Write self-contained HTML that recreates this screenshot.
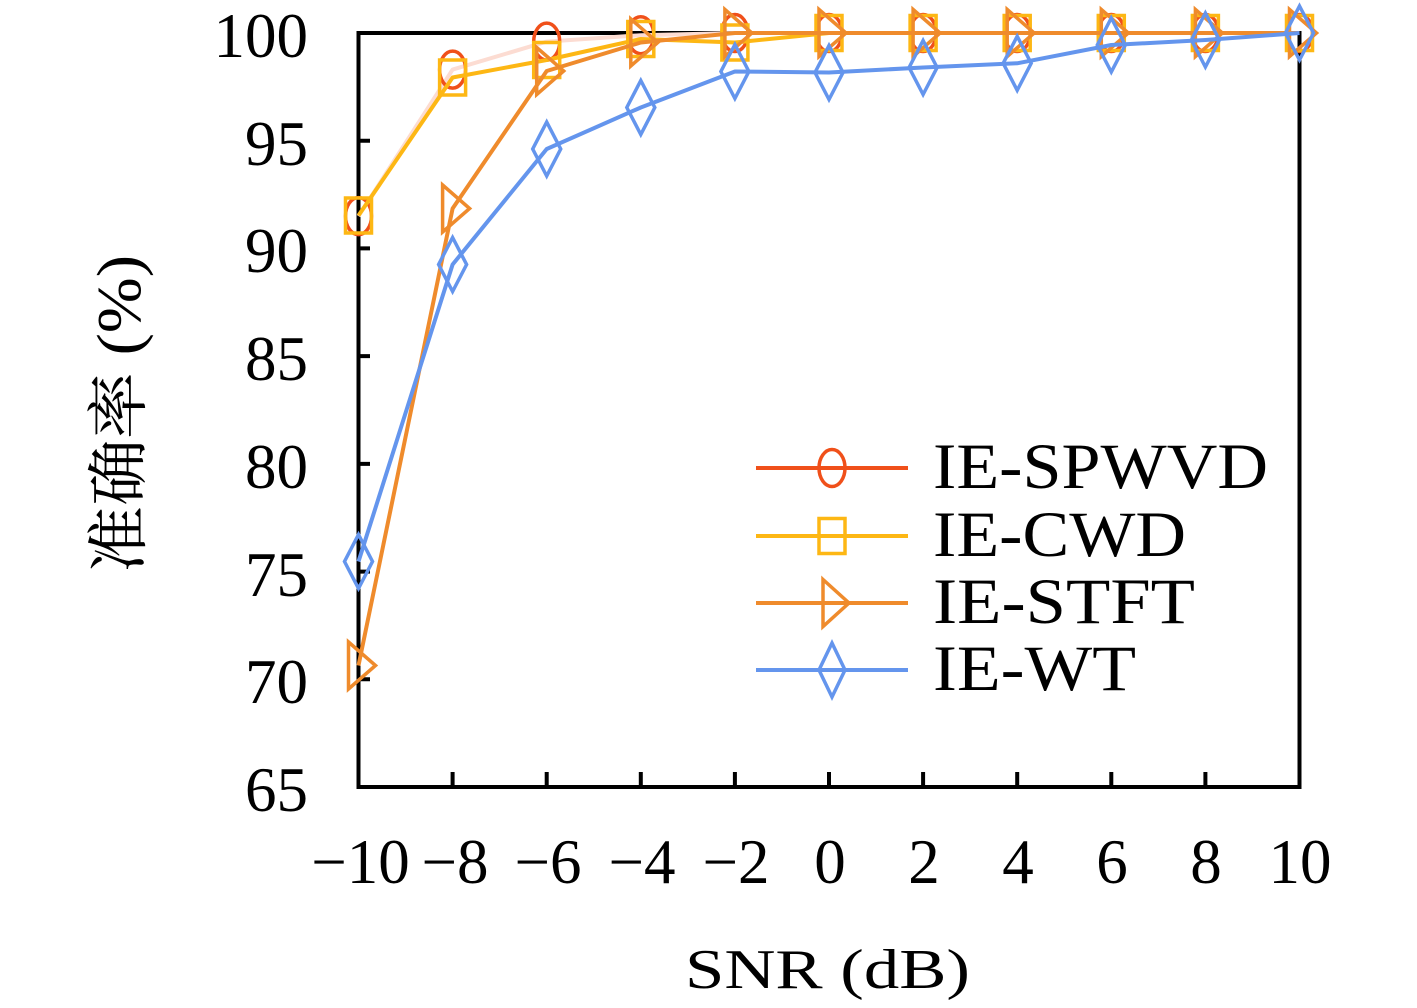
<!DOCTYPE html>
<html>
<head>
<meta charset="utf-8">
<style>
html,body{margin:0;padding:0;background:#fff;}
svg{display:block;}
text{font-family:"Liberation Serif","Noto Serif CJK SC",serif;fill:#000;}
</style>
</head>
<body>
<svg width="1417" height="1008" viewBox="0 0 1417 1008" xmlns="http://www.w3.org/2000/svg">
<rect width="1417" height="1008" fill="#fff"/>

<!-- axes box -->
<g stroke="#000" stroke-width="4" fill="none" stroke-linecap="square">
  <path d="M358.5 33 L1299.5 33 L1299.5 787 L358.5 787 Z"/>
  <path d="M452.6 787V774 M546.7 787V774 M640.8 787V774 M734.9 787V774 M829 787V774 M923.1 787V774 M1017.2 787V774 M1111.3 787V774 M1205.4 787V774"/>
  <path d="M358.5 140.7H368 M358.5 248.4H368 M358.5 356.1H368 M358.5 463.9H368 M358.5 571.6H368 M358.5 679.3H368"/>
</g>

<!-- y tick labels -->
<g font-size="63" text-anchor="end">
  <text x="308" y="57">100</text>
  <text x="308" y="165">95</text>
  <text x="308" y="272">90</text>
  <text x="308" y="380">85</text>
  <text x="308" y="488">80</text>
  <text x="308" y="596">75</text>
  <text x="308" y="703">70</text>
  <text x="308" y="811">65</text>
</g>

<!-- x tick labels -->
<g font-size="63" text-anchor="middle">
  <text x="360.5" y="883">−10</text>
  <text x="455" y="883">−8</text>
  <text x="548" y="883">−6</text>
  <text x="642" y="883">−4</text>
  <text x="736" y="883">−2</text>
  <text x="830" y="883">0</text>
  <text x="924" y="883">2</text>
  <text x="1018" y="883">4</text>
  <text x="1112" y="883">6</text>
  <text x="1206" y="883">8</text>
  <text x="1300" y="883">10</text>
</g>

<!-- axis labels -->
<text x="685" y="988" font-size="56" textLength="285" lengthAdjust="spacingAndGlyphs">SNR (dB)</text>
<text transform="translate(140,414) rotate(-90)" font-size="62" text-anchor="middle" textLength="318" lengthAdjust="spacingAndGlyphs">准确率 (%)</text>

<!-- IE-SPWVD -->
<polyline fill="none" stroke="#fcdcd2" stroke-width="4" stroke-linejoin="round"
  points="358.5,216.1 452.6,69.6 546.7,41.6 640.8,35.2 734.9,33 1299.5,33"/>
<g fill="none" stroke="#f0501a" stroke-width="3.5">
  <ellipse cx="358.5" cy="216.1" rx="13" ry="18.5"/>
  <ellipse cx="452.6" cy="69.6" rx="13" ry="18.5"/>
  <ellipse cx="546.7" cy="41.6" rx="13" ry="18.5"/>
  <ellipse cx="640.8" cy="35.2" rx="13" ry="18.5"/>
  <ellipse cx="734.9" cy="33" rx="13" ry="18.5"/>
  <ellipse cx="829" cy="33" rx="13" ry="18.5"/>
  <ellipse cx="923.1" cy="33" rx="13" ry="18.5"/>
  <ellipse cx="1017.2" cy="33" rx="13" ry="18.5"/>
  <ellipse cx="1111.3" cy="33" rx="13" ry="18.5"/>
  <ellipse cx="1205.4" cy="33" rx="13" ry="18.5"/>
  <ellipse cx="1299.5" cy="33" rx="13" ry="18.5"/>
</g>

<!-- IE-CWD -->
<polyline fill="none" stroke="#fdb714" stroke-width="4" stroke-linejoin="round"
  points="358.5,215.5 452.6,77.5 546.7,60 640.8,39 734.9,42.5 829,33 1299.5,33"/>
<g fill="none" stroke="#fdb714" stroke-width="3.5">
  <rect x="345.5" y="198" width="26" height="35"/>
  <rect x="439.6" y="60" width="26" height="35"/>
  <rect x="533.7" y="42.5" width="26" height="35"/>
  <rect x="627.8" y="21.5" width="26" height="35"/>
  <rect x="721.9" y="25" width="26" height="35"/>
  <rect x="816" y="15.5" width="26" height="35"/>
  <rect x="910.1" y="15.5" width="26" height="35"/>
  <rect x="1004.2" y="15.5" width="26" height="35"/>
  <rect x="1098.3" y="15.5" width="26" height="35"/>
  <rect x="1192.4" y="15.5" width="26" height="35"/>
  <rect x="1286.5" y="15.5" width="26" height="35"/>
</g>

<!-- IE-STFT -->
<polyline fill="none" stroke="#ef8b2c" stroke-width="4" stroke-linejoin="round"
  points="358.5,665.5 452.6,208.5 546.7,71 640.8,42.5 734.9,33 1299.5,33"/>
<g fill="none" stroke="#ef8b2c" stroke-width="3.5" stroke-linejoin="miter">
  <path d="M348.5 642L375.5 665.5L348.5 689Z"/>
  <path d="M442.6 185L469.6 208.5L442.6 232Z"/>
  <path d="M536.7 47.5L563.7 71L536.7 94.5Z"/>
  <path d="M630.8 19L657.8 42.5L630.8 66Z"/>
  <path d="M724.9 9.5L751.9 33L724.9 56.5Z"/>
  <path d="M819 9.5L846 33L819 56.5Z"/>
  <path d="M913.1 9.5L940.1 33L913.1 56.5Z"/>
  <path d="M1007.2 9.5L1034.2 33L1007.2 56.5Z"/>
  <path d="M1101.3 9.5L1128.3 33L1101.3 56.5Z"/>
  <path d="M1195.4 9.5L1222.4 33L1195.4 56.5Z"/>
  <path d="M1289.5 9.5L1316.5 33L1289.5 56.5Z"/>
</g>

<!-- IE-WT -->
<polyline fill="none" stroke="#6495ed" stroke-width="4" stroke-linejoin="round"
  points="358.5,561.5 452.6,264.5 546.7,149 640.8,107.5 734.9,71.5 829,72.5 923.1,67.5 1017.2,63.3 1111.3,45 1205.4,40 1299.5,33"/>
<g fill="none" stroke="#6495ed" stroke-width="3.5">
  <path d="M358.5 534.5L372.5 561.5L358.5 588.5L344.5 561.5Z"/>
  <path d="M452.6 237.5L466.6 264.5L452.6 291.5L438.6 264.5Z"/>
  <path d="M546.7 122L560.7 149L546.7 176L532.7 149Z"/>
  <path d="M640.8 80.5L654.8 107.5L640.8 134.5L626.8 107.5Z"/>
  <path d="M734.9 44.5L748.9 71.5L734.9 98.5L720.9 71.5Z"/>
  <path d="M829 45.5L843 72.5L829 99.5L815 72.5Z"/>
  <path d="M923.1 40.5L937.1 67.5L923.1 94.5L909.1 67.5Z"/>
  <path d="M1017.2 36.3L1031.2 63.3L1017.2 90.3L1003.2 63.3Z"/>
  <path d="M1111.3 18L1125.3 45L1111.3 72L1097.3 45Z"/>
  <path d="M1205.4 13L1219.4 40L1205.4 67L1191.4 40Z"/>
  <path d="M1299.5 6L1313.5 33L1299.5 60L1285.5 33Z"/>
</g>

<!-- legend -->
<g stroke-width="4" fill="none">
  <line x1="756" y1="468" x2="908" y2="468" stroke="#f0501a"/>
  <ellipse cx="832" cy="468" rx="13" ry="18.5" stroke="#f0501a" stroke-width="3.5"/>
  <line x1="756" y1="536" x2="908" y2="536" stroke="#fdb714"/>
  <rect x="819" y="518.5" width="26" height="35" stroke="#fdb714" stroke-width="3.5"/>
  <line x1="756" y1="603" x2="908" y2="603" stroke="#ef8b2c"/>
  <path d="M823 579.5L849 603L823 626.5Z" stroke="#ef8b2c" stroke-width="3.5"/>
  <line x1="756" y1="670" x2="908" y2="670" stroke="#6495ed"/>
  <path d="M832 643L845 670L832 697L819 670Z" stroke="#6495ed" stroke-width="3.5"/>
</g>
<g font-size="65">
  <text x="933" y="488" textLength="335" lengthAdjust="spacingAndGlyphs">IE-SPWVD</text>
  <text x="933" y="556" textLength="253" lengthAdjust="spacingAndGlyphs">IE-CWD</text>
  <text x="933" y="623" textLength="262" lengthAdjust="spacingAndGlyphs">IE-STFT</text>
  <text x="933" y="690" textLength="203" lengthAdjust="spacingAndGlyphs">IE-WT</text>
</g>
</svg>
</body>
</html>
